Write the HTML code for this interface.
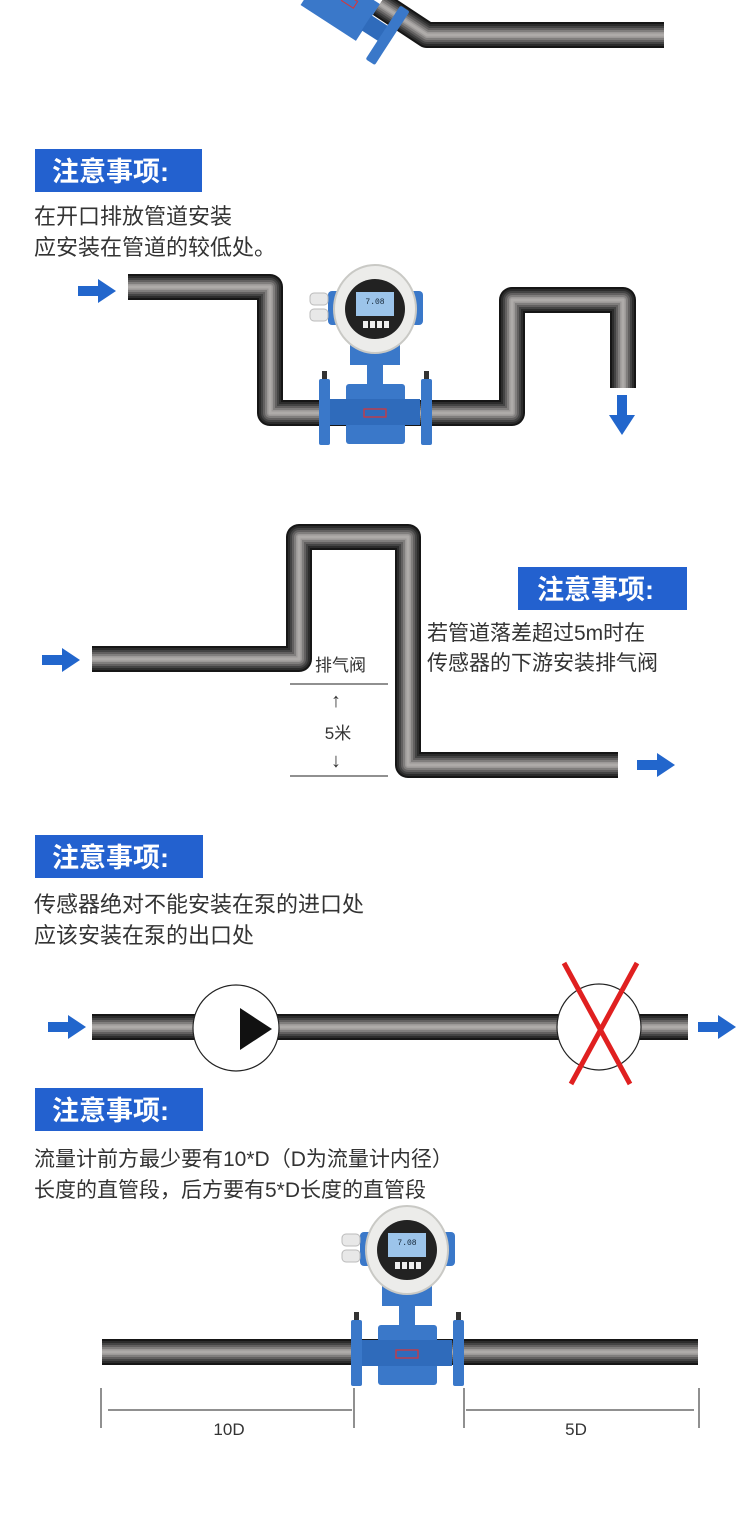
<!DOCTYPE html>
<html><head><meta charset="utf-8"><style>
html,body{margin:0;padding:0;background:#fff}
svg{display:block}
.t{font-family:"Liberation Sans","Noto Sans CJK SC",sans-serif;fill:#333}
.h{font-family:"Liberation Sans","Noto Sans CJK SC",sans-serif;fill:#fff;font-weight:bold;font-size:27px}
</style></head><body>
<svg width="750" height="1531" viewBox="0 0 750 1531" xmlns="http://www.w3.org/2000/svg">
<defs>
<g id="arrowR"><rect x="0" y="-5" width="22" height="10" fill="#2266cc"/><polygon points="20,-12 38,0 20,12" fill="#2266cc"/></g>
<g id="pp" fill="none" stroke-linejoin="round" stroke-linecap="butt">
    <path d="M380,4 L427,35 L664,35"/>
    <path d="M128,287 L270,287 L270,413 L512,413 L512,300 L623,300 L623,388"/>
    <path d="M92,659 L299,659 L299,537 L408,537 L408,765 L618,765"/>
    <path d="M92,1027 L688,1027"/>
    <path d="M102,1352 L698,1352"/>
</g>
<g id="meter">
  <rect x="-47" y="-18" width="95" height="34" rx="4" fill="#3a78c9"/>
  <rect x="-65" y="-16" width="18" height="12" rx="4" fill="#e8e8e8" stroke="#bbb"/>
  <rect x="-65" y="0" width="18" height="12" rx="4" fill="#e8e8e8" stroke="#bbb"/>
  <rect x="-25" y="30" width="50" height="26" fill="#3a78c9"/>
  <rect x="-8" y="55" width="16" height="22" fill="#3a78c9"/>
  <rect x="-29" y="75" width="59" height="60" rx="3" fill="#3a78c9"/>
  <rect x="-45" y="90" width="90" height="26" fill="#2f6bbb"/>
  <rect x="-56" y="70" width="11" height="66" rx="2" fill="#3a78c9"/>
  <rect x="46" y="70" width="11" height="66" rx="2" fill="#3a78c9"/>
  <rect x="-53" y="62" width="5" height="8" fill="#333"/>
  <rect x="49" y="62" width="5" height="8" fill="#333"/>
  <rect x="-11" y="100" width="22" height="8" fill="none" stroke="#d33" stroke-width="1.2"/>
  <ellipse cx="0" cy="0" rx="41" ry="44" fill="#ececea" stroke="#c9c9c5" stroke-width="2"/>
  <circle cx="0" cy="0" r="30" fill="#222"/>
  <rect x="-19" y="-17" width="38" height="24" fill="#9cc4ea"/>
  <text x="0" y="-5" font-size="8" text-anchor="middle" fill="#123" font-family="Liberation Mono,monospace">7.08</text>
  <rect x="-12" y="12" width="5" height="7" fill="#eee"/><rect x="-5" y="12" width="5" height="7" fill="#eee"/><rect x="2" y="12" width="5" height="7" fill="#eee"/><rect x="9" y="12" width="5" height="7" fill="#eee"/>
</g>
</defs>

<use href="#pp" stroke="#161616" stroke-width="26"/>
<use href="#pp" stroke="#2c2c2c" stroke-width="22"/>
<use href="#pp" stroke="#444" stroke-width="18"/>
<use href="#pp" stroke="#626060" stroke-width="14"/>
<use href="#pp" stroke="#807e7d" stroke-width="10"/>
<use href="#pp" stroke="#9c9998" stroke-width="6"/>
<use href="#pp" stroke="#aeaba9" stroke-width="3"/>

<!-- top tilted meter -->
<g transform="translate(345,10) rotate(33)">
  <rect x="-40" y="-24" width="66" height="44" fill="#3a78c9"/>
  <rect x="25" y="-10" width="22" height="18" fill="#2f6bbb"/>
  <rect x="44" y="-34" width="11" height="64" rx="2" fill="#3a78c9"/>
  <rect x="-8" y="-14" width="14" height="8" fill="none" stroke="#d33"/>
</g>

<!-- Section 2 -->
<rect x="35" y="149" width="167" height="43" fill="#2361cf"/>
<text class="h" x="52" y="181">注意事项:</text>
<text class="t" x="34" y="224" font-size="22">在开口排放管道安装</text>
<text class="t" x="34" y="255" font-size="22">应安装在管道的较低处。</text>
<use href="#arrowR" x="78" y="291"/>
<g transform="translate(622,395)"><rect x="-5" y="0" width="10" height="22" fill="#2266cc"/><polygon points="-13,20 13,20 0,40" fill="#2266cc"/></g>
<use href="#meter" x="375" y="309"/>

<!-- Section 3 -->
<use href="#arrowR" x="42" y="660"/>
<use href="#arrowR" x="637" y="765"/>
<rect x="518" y="567" width="169" height="43" fill="#2361cf"/>
<text class="h" x="537" y="599">注意事项:</text>
<text class="t" x="427" y="640" font-size="21">若管道落差超过5m时在</text>
<text class="t" x="427" y="670" font-size="21">传感器的下游安装排气阀</text>
<text class="t" x="315" y="671" font-size="17">排气阀</text>
<line x1="290" y1="684" x2="388" y2="684" stroke="#222" stroke-width="1"/>
<line x1="290" y1="776" x2="388" y2="776" stroke="#222" stroke-width="1"/>
<text class="t" x="336" y="707" font-size="20" text-anchor="middle" fill="#111">↑</text>
<text class="t" x="338" y="739" font-size="17" text-anchor="middle">5米</text>
<text class="t" x="336" y="767" font-size="20" text-anchor="middle" fill="#111">↓</text>

<!-- Section 4 -->
<rect x="35" y="835" width="168" height="43" fill="#2361cf"/>
<text class="h" x="52" y="867">注意事项:</text>
<text class="t" x="34" y="912" font-size="22">传感器绝对不能安装在泵的进口处</text>
<text class="t" x="34" y="943" font-size="22">应该安装在泵的出口处</text>
<use href="#arrowR" x="48" y="1027"/>
<use href="#arrowR" x="698" y="1027"/>
<ellipse cx="236" cy="1028" rx="43" ry="43" fill="#fff" stroke="#222" stroke-width="1.2"/>
<polygon points="240,1008 240,1050 272,1029" fill="#111"/>
<ellipse cx="599" cy="1027" rx="42" ry="43" fill="#fff" stroke="#222" stroke-width="1.2"/>
<path d="M564,963 L630,1084 M637,963 L571,1084" stroke="#e02020" stroke-width="5" fill="none"/>

<!-- Section 5 -->
<rect x="35" y="1088" width="168" height="43" fill="#2361cf"/>
<text class="h" x="52" y="1120">注意事项:</text>
<text class="t" x="34" y="1166" font-size="21">流量计前方最少要有10*D（D为流量计内径）</text>
<text class="t" x="34" y="1197" font-size="21">长度的直管段，后方要有5*D长度的直管段</text>
<use href="#meter" x="407" y="1250"/>
<g stroke="#222" stroke-width="1">
  <line x1="101" y1="1388" x2="101" y2="1428"/>
  <line x1="354" y1="1388" x2="354" y2="1428"/>
  <line x1="464" y1="1388" x2="464" y2="1428"/>
  <line x1="699" y1="1388" x2="699" y2="1428"/>
  <line x1="108" y1="1410" x2="352" y2="1410"/>
  <line x1="466" y1="1410" x2="694" y2="1410"/>
</g>
<text class="t" x="229" y="1435" font-size="17" text-anchor="middle">10D</text>
<text class="t" x="576" y="1435" font-size="17" text-anchor="middle">5D</text>
</svg>
</body></html>
